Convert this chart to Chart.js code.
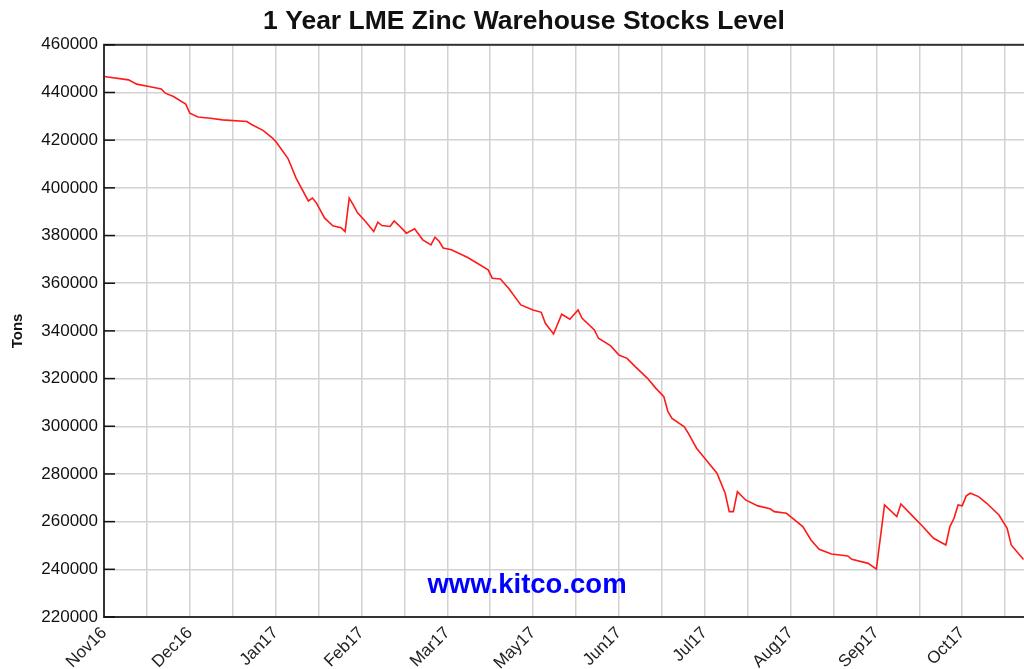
<!DOCTYPE html>
<html>
<head>
<meta charset="utf-8">
<title>1 Year LME Zinc Warehouse Stocks Level</title>
<script src="https://cdn.jsdelivr.net/npm/chart.js@4.4.1/dist/chart.umd.min.js"></script>
<style>
html, body { margin: 0; padding: 0; background: #fff; overflow: hidden; }
#wrap { width: 1024px; height: 669px; overflow: hidden; }
</style>
</head>
<body>
<div id="wrap"><canvas id="zincChart" width="1053" height="669"></canvas></div>
<script>
const monthLabels = ["Nov16", "Dec16", "Jan17", "Feb17", "Mar17", "May17", "Jun17", "Jul17", "Aug17", "Sep17", "Oct17"];
const daysPerLabel = 21;

// trading day index (x) and stock level in tons (y)
const tradingDay = [0,6,8,11,14,15,17,20,21,23,26,29,35,36,39,41,42,45,47,50,51,52,54,56,58,59,60,61,62,64,66,67,68,70,71,72,74,76,78,80,81,82,83,85,89,94,95,97,99,102,105,107,108,110,112,114,116,117,120,121,124,126,128,130,133,135,137,138,139,142,143,145,148,150,152,153,154,155,157,160,163,164,167,168,171,173,175,178,182,183,187,189,191,194,195,198,200,203,206,207,208,209,210,211,212,214,216,219,221,222,225];
const stockTons = [446700,445300,443500,442500,441500,439700,438300,435100,431300,429700,429200,428500,427800,426700,424000,421200,419500,412400,404100,394500,395700,393600,387300,384100,383300,381700,395700,392900,389600,385900,381700,385600,384200,383800,386100,384500,381000,382800,378200,376100,379300,377600,374800,374000,370800,365600,362100,361800,357900,350900,348800,347800,343200,338700,347000,344900,348800,345300,340400,336900,333700,329900,328500,325000,320100,316000,312400,306100,303300,299800,297000,290800,284500,280300,271900,264200,264200,272600,269100,266600,265400,264200,263500,262100,257900,252300,248400,246400,245600,244200,242500,240100,267000,262100,267400,262100,258600,253000,250200,257900,261400,267000,266600,270800,271900,270500,267700,262800,257200,250200,244100];

const yMin = 220000;
const yMax = 460000;
const yStep = 20000;

const fontFamily = "'Liberation Sans', Arial, sans-serif";

const points = tradingDay.map((d, i) => ({ x: d, y: stockTons[i] }));

// frame, inner tick marks and watermark
const kitcoPlugin = {
    id: "kitco",
    beforeDatasetsDraw(chart) {
        const c = chart.ctx;
        c.save();
        c.font = "bold 27.5px " + fontFamily;
        c.fillStyle = "#0000ff";
        c.textAlign = "center";
        c.textBaseline = "alphabetic";
        c.fillText("www.kitco.com", 527, 593);
        c.restore();
    },
    afterDraw(chart) {
        const c = chart.ctx;
        const area = chart.chartArea;
        const yScale = chart.scales.y;
        c.save();
        c.strokeStyle = "#333";
        c.lineWidth = 2;
        c.strokeRect(area.left, area.top, area.right - area.left, area.bottom - area.top);
        c.lineWidth = 1.5;
        c.strokeStyle = "#111";
        yScale.ticks.forEach(t => {
            const y = yScale.getPixelForValue(t.value);
            c.beginPath();
            c.moveTo(area.left, y);
            c.lineTo(area.left + 11, y);
            c.stroke();
        });
        c.restore();
    }
};

const zincChart = new Chart(document.getElementById("zincChart"), {
    type: "line",
    data: {
        datasets: [{
            label: "Tons",
            data: points,
            borderColor: "#ff1a1a",
            borderWidth: 1.6,
            pointRadius: 0,
            tension: 0,
            fill: false
        }]
    },
    options: {
        responsive: false,
        animation: false,
        devicePixelRatio: 1,
        layout: { padding: { left: 0, right: 5, top: 0, bottom: 0 } },
        plugins: {
            legend: { display: false },
            tooltip: { enabled: false },
            title: {
                display: true,
                text: "1 Year LME Zinc Warehouse Stocks Level",
                color: "#111",
                font: { family: fontFamily, size: 26.5, weight: "bold", lineHeight: 1.2 },
                padding: { top: 6, bottom: 7 }
            }
        },
        scales: {
            x: {
                type: "linear",
                min: 0,
                max: 231,
                border: { display: false },
                grid: { color: "#d2d2d2", lineWidth: 1.5, drawTicks: false },
                ticks: {
                    stepSize: daysPerLabel / 2,
                    autoSkip: false,
                    maxRotation: 45,
                    minRotation: 45,
                    padding: 6,
                    color: "#222",
                    font: { family: fontFamily, size: 17 },
                    callback: function(value) {
                        const k = value / daysPerLabel;
                        if (Math.abs(k - Math.round(k)) > 1e-6) return "";
                        return monthLabels[Math.round(k)] || "";
                    }
                },
                afterFit: function(axis) {
                    axis.height = 52;
                    axis.paddingRight = 0;
                }
            },
            y: {
                min: yMin,
                max: yMax,
                border: { display: false },
                grid: { color: "#d2d2d2", lineWidth: 1.5, drawTicks: false },
                ticks: {
                    stepSize: yStep,
                    padding: 6,
                    color: "#111",
                    font: { family: fontFamily, size: 17 },
                    callback: function(value) { return String(value); }
                },
                title: {
                    display: true,
                    text: "Tons",
                    color: "#111",
                    font: { family: fontFamily, size: 15, weight: "bold", lineHeight: 1.2 },
                    padding: { top: 9, bottom: 0 }
                },
                afterFit: function(axis) { axis.width = 104; }
            }
        }
    },
    plugins: [kitcoPlugin]
});
</script>
</body>
</html>
